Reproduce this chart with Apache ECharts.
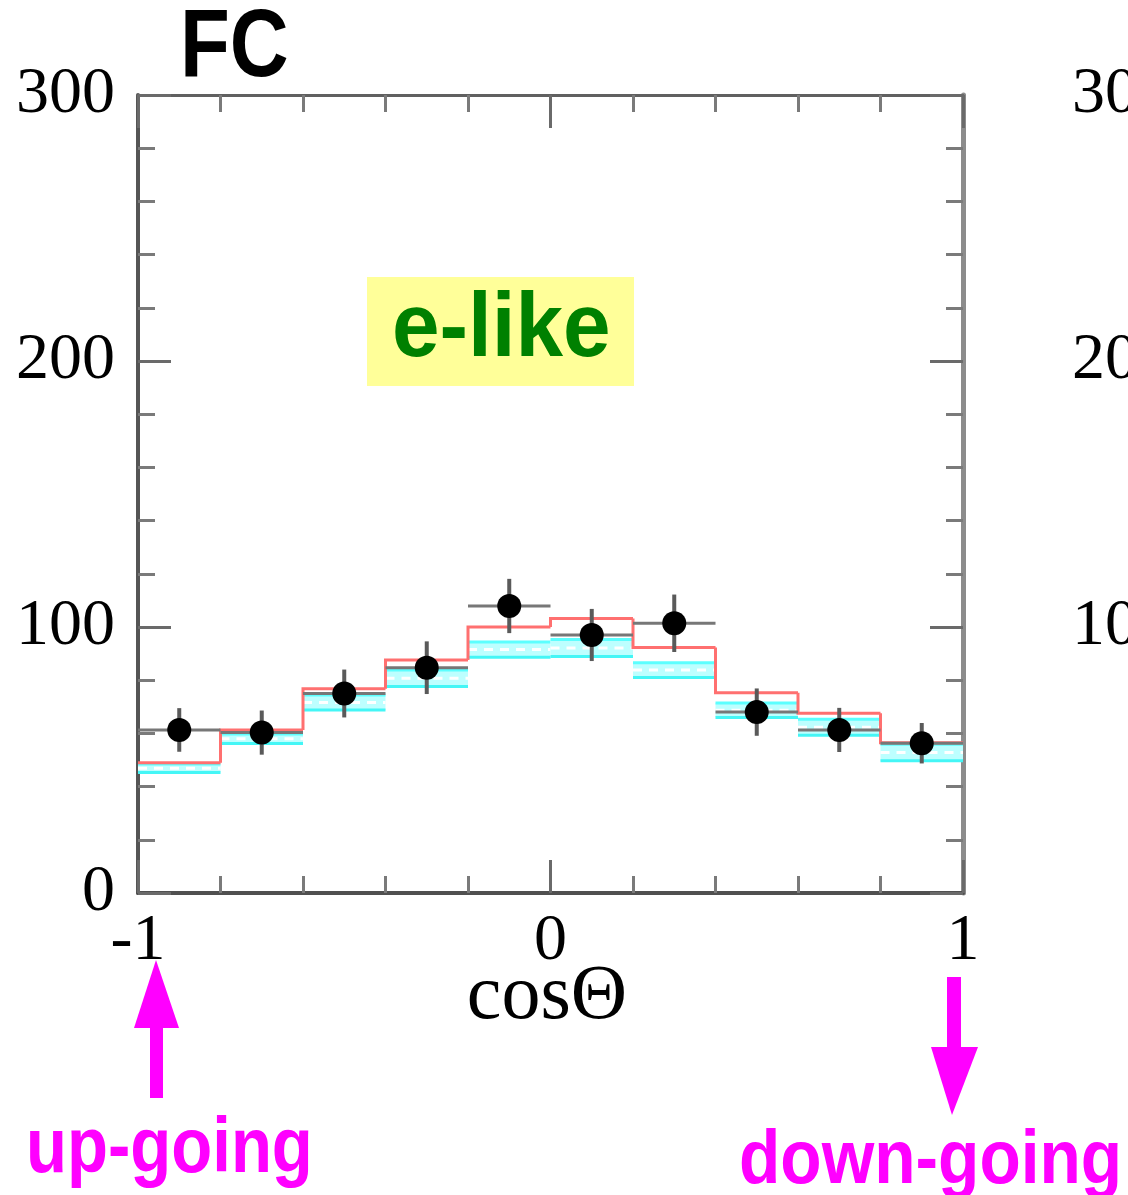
<!DOCTYPE html>
<html>
<head>
<meta charset="utf-8">
<script src="https://cdn.jsdelivr.net/npm/echarts@6/dist/echarts.min.js"></script>
<style>
html,body{margin:0;padding:0;background:#fff;}
#chart{width:1128px;height:1195px;}
</style>
</head>
<body>
<div id="chart"></div>
<script>
// ---- data ----
const cosCenters = [-0.9, -0.7, -0.5, -0.3, -0.1, 0.1, 0.3, 0.5, 0.7, 0.9];
const binHalfWidth = 0.1;
const dataCounts = [61.3, 60.3, 75.0, 84.7, 107.9, 97.0, 101.4, 68.0, 61.3, 56.3];
const dataErrors = [8.2, 8.3, 9.0, 9.9, 10.2, 9.8, 10.8, 8.9, 8.3, 7.6];
const noOscMC   = [49.0, 61.3, 76.8, 87.6, 100.0, 103.2, 92.3, 75.3, 67.6, 56.5];
const oscMC     = [46.9, 58.0, 71.6, 80.7, 91.5, 92.1, 83.8, 68.7, 62.3, 52.8];
const oscMCErr  = [1.6, 1.8, 2.8, 3.1, 2.9, 3.2, 2.8, 2.7, 3.0, 3.1];
const yTickLabels = ['0', '100', '200', '300'];
const xTickLabels = ['-1', '0', '1'];
const neighbourLabels = ['300', '200', '100'];
const neighbourValues = [300, 200, 100];

const chart = echarts.init(document.getElementById('chart'), null, {renderer: 'canvas'});

const SERIF = "'Liberation Serif', 'DejaVu Serif', serif";
const SANS = "'Liberation Sans', Arial, sans-serif";
const GRID = {left: 138, right: 165, top: 95, bottom: 302};

function axisCommon(position, lineColor, lineWidth) {
  return {
    position: position,
    axisLine: {show: true, onZero: false, lineStyle: {color: lineColor, width: lineWidth}},
    axisTick: {show: true, inside: true, length: 33, lineStyle: {color: '#6a6a6a', width: 3}},
    minorTick: {show: true, splitNumber: 5, length: 17, lineStyle: {color: '#7a7a7a', width: 3}},
    splitLine: {show: false},
    minorSplitLine: {show: false}
  };
}

const xBottom = Object.assign(axisCommon('bottom', '#505050', 4), {
  type: 'value', min: -1, max: 1, interval: 1, gridIndex: 0,
  axisLabel: {show: true, margin: 16, fontFamily: SERIF, fontSize: 66, color: '#000',
    formatter: function (v) { const i = Math.round(v) + 1; return xTickLabels[i]; }}
});
const xTop = Object.assign(axisCommon('top', '#606060', 3), {
  type: 'value', min: -1, max: 1, interval: 1, gridIndex: 0,
  axisLabel: {show: false}
});
const yLeft = Object.assign(axisCommon('left', '#555555', 4), {
  type: 'value', min: 0, max: 300, interval: 100, gridIndex: 0,
  axisLabel: {show: true, margin: 23, fontFamily: SERIF, fontSize: 66, color: '#000',
    formatter: function (v) { return yTickLabels[Math.round(v / 100)]; }}
});
const yRight = Object.assign(axisCommon('right', '#8c8c8c', 5), {
  type: 'value', min: 0, max: 300, interval: 100, gridIndex: 0,
  axisLabel: {show: false}
});

const bandData = cosCenters.map((c, i) => [c, oscMC[i], oscMCErr[i]]);
const stepData = cosCenters.map((c, i) => [c, noOscMC[i], i > 0 ? noOscMC[i - 1] : noOscMC[i]]);
const pointData = cosCenters.map((c, i) => [c, dataCounts[i], dataErrors[i]]);

function renderBand(params, api) {
  const c = api.value(0), v = api.value(1), e = api.value(2);
  const tl = api.coord([c - binHalfWidth, v + e]);
  const br = api.coord([c + binHalfWidth, v - e]);
  const mid = api.coord([c, v]);
  return {
    type: 'group',
    children: [
      {type: 'rect', shape: {x: tl[0], y: tl[1], width: br[0] - tl[0], height: br[1] - tl[1]},
        style: {fill: '#bdffff'}},
      {type: 'line', shape: {x1: tl[0], y1: tl[1], x2: br[0], y2: tl[1]},
        style: {stroke: '#5cffff', lineWidth: 3}},
      {type: 'line', shape: {x1: tl[0], y1: br[1], x2: br[0], y2: br[1]},
        style: {stroke: '#44f6f6', lineWidth: 3}},
      {type: 'line', shape: {x1: tl[0], y1: mid[1], x2: br[0], y2: mid[1]},
        style: {stroke: '#ffffff', lineWidth: 3, lineDash: [9, 7]}}
    ]
  };
}

function renderStep(params, api) {
  const c = api.value(0), v = api.value(1), prev = api.value(2);
  const p0 = api.coord([c - binHalfWidth, prev]);
  const p1 = api.coord([c - binHalfWidth, v]);
  const p2 = api.coord([c + binHalfWidth, v]);
  return {
    type: 'polyline',
    shape: {points: [p0, p1, p2]},
    style: {stroke: '#ff7070', lineWidth: 3, fill: null}
  };
}

function renderPoint(params, api) {
  const c = api.value(0), v = api.value(1), e = api.value(2);
  const l = api.coord([c - binHalfWidth, v]);
  const r = api.coord([c + binHalfWidth, v]);
  const ctr = api.coord([c, v]);
  const top = api.coord([c, v + e]);
  const bot = api.coord([c, v - e]);
  return {
    type: 'group',
    children: [
      {type: 'line', shape: {x1: l[0], y1: l[1], x2: r[0], y2: r[1]},
        style: {stroke: '#777777', lineWidth: 3}},
      {type: 'line', shape: {x1: top[0], y1: top[1], x2: bot[0], y2: bot[1]},
        style: {stroke: '#5a5a5a', lineWidth: 4}},
      {type: 'circle', shape: {cx: ctr[0], cy: ctr[1], r: 12},
        style: {fill: '#000000'}}
    ]
  };
}

const graphics = [
  // e-like box
  {type: 'rect', left: 367, top: 277, shape: {width: 267, height: 109}, style: {fill: '#ffff99'}, z: 10},
  {type: 'text', x: 392, y: 331, scaleX: 0.95, z: 11,
    style: {text: 'e-like', font: 'bold 90px ' + SANS, fill: '#008000', align: 'left', verticalAlign: 'middle'}},
  // title FC
  {type: 'text', x: 180, y: 50, scaleX: 0.85, z: 11,
    style: {text: 'FC', font: 'bold 96px ' + SANS, fill: '#000000', align: 'left', verticalAlign: 'middle'}},
  // axis name
  {type: 'text', x: 547, y: 998, z: 11,
    style: {text: 'cos\u0398', font: '78px ' + SERIF, fill: '#000000', align: 'center', verticalAlign: 'middle'}},
  // up arrow
  {type: 'rect', shape: {x: 150, y: 1026, width: 13, height: 72}, style: {fill: '#ff00ff'}, z: 11},
  {type: 'polygon', shape: {points: [[134, 1028], [179, 1028], [156, 960]]}, style: {fill: '#ff00ff'}, z: 11},
  // down arrow
  {type: 'rect', shape: {x: 947, y: 977, width: 14, height: 72}, style: {fill: '#ff00ff'}, z: 11},
  {type: 'polygon', shape: {points: [[931, 1047], [978, 1047], [952, 1115]]}, style: {fill: '#ff00ff'}, z: 11},
  // direction labels
  {type: 'text', x: 26, y: 1150, scaleX: 0.86, z: 11,
    style: {text: 'up-going', font: 'bold 78px ' + SANS, fill: '#ff00ff', align: 'left', verticalAlign: 'middle'}},
  {type: 'text', x: 739, y: 1162, scaleX: 0.89, z: 11,
    style: {text: 'down-going', font: 'bold 76px ' + SANS, fill: '#ff00ff', align: 'left', verticalAlign: 'middle'}}
];
// partially visible tick labels of the neighbouring panel
const plotH = 1195 - GRID.top - GRID.bottom;
neighbourLabels.forEach((t, i) => {
  graphics.push({type: 'text', x: 1072, y: GRID.top + plotH * (1 - neighbourValues[i] / 300), z: 11,
    style: {text: t, font: '66px ' + SERIF, fill: '#000000', align: 'left', verticalAlign: 'middle'}});
});

chart.setOption({
  animation: false,
  backgroundColor: '#ffffff',
  grid: GRID,
  xAxis: [xBottom, xTop],
  yAxis: [yLeft, yRight],
  series: [
    {type: 'custom', name: 'oscillated MC', xAxisIndex: 0, yAxisIndex: 0, renderItem: renderBand,
      data: bandData, encode: {x: 0, y: 1}, z: 2, clip: false},
    {type: 'custom', name: 'no oscillation MC', xAxisIndex: 0, yAxisIndex: 0, renderItem: renderStep,
      data: stepData, encode: {x: 0, y: 1}, z: 3, clip: false},
    {type: 'custom', name: 'data', xAxisIndex: 0, yAxisIndex: 0, renderItem: renderPoint,
      data: pointData, encode: {x: 0, y: [1]}, z: 4, clip: false}
  ],
  graphic: graphics
});
</script>
</body>
</html>
